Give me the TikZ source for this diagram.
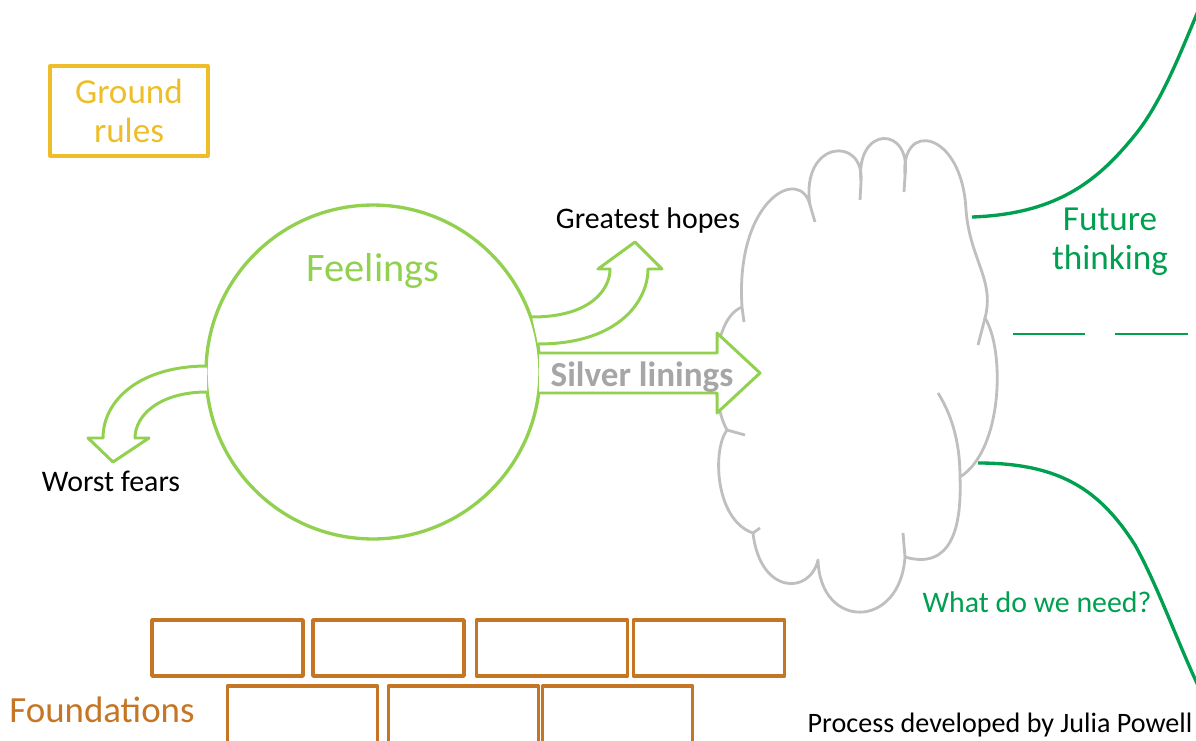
\documentclass[tikz,border=0pt]{standalone}
\usepackage{fontspec}
\setmainfont{Carlito}
\usetikzlibrary{positioning, calc}
\definecolor{goldline}{RGB}{238,190,40}
\definecolor{feelgreen}{RGB}{146,208,80}
\definecolor{futuregreen}{RGB}{0,160,80}
\definecolor{cloudgrey}{RGB}{191,191,191}
\definecolor{silvergrey}{RGB}{166,166,166}
\definecolor{brickbrown}{RGB}{196,118,36}

\begin{document}
\begin{tikzpicture}
    [
        x=0.02cm, y=-0.02cm, line join=round,
        gold_box/.style={rectangle, draw=goldline, line width=1.9pt, minimum width=3.16cm, minimum height=1.8cm, align=center, text=goldline, font=\fontsize{20}{22}\selectfont},
        feel_circle/.style={circle, draw=feelgreen, line width=1.9pt, minimum size=6.68cm, inner sep=0pt},
        green_arrow/.style={draw=feelgreen, line width=1.7pt, fill=white},
        cloud_line/.style={draw=cloudgrey, line width=1.6pt},
        future_line/.style={draw=futuregreen, line width=1.9pt},
        dash_line/.style={draw=futuregreen, line width=0.8pt},
        brick_top/.style={rectangle, draw=brickbrown, line width=2pt, minimum width=3.02cm, minimum height=1.12cm},
        brick_low/.style={rectangle, draw=brickbrown, line width=2pt, minimum width=3cm, minimum height=1.16cm},
        black_text/.style={text=black, inner sep=0pt, font=\fontsize{17}{20}\selectfont},
        green_text/.style={text=futuregreen, inner sep=0pt, align=center},
    ]
  \useasboundingbox (0,0) rectangle (1196,740);

  \node[gold_box] (rules) at (129,111) {Ground\\rules};

  \node[feel_circle] (feel) at (373,372) {};
  \node[text=feelgreen, inner sep=0pt, font=\fontsize{23}{26}\selectfont] (feeltext) at (373,271) {Feelings};

  % cloud
  \draw[cloud_line] (742,307)
      .. controls (735,200) and (800,165) .. (810,205)
      .. controls (800,140) and (865,135) .. (861,182)
      .. controls (855,125) and (912,125) .. (905,176)
      .. controls (900,120) and (962,130) .. (966,210)
      .. controls (970,260) and (995,280) .. (985,318)
      .. controls (1005,350) and (1003,450) .. (960,477)
      .. controls (962,530) and (950,570) .. (905,557)
      .. controls (900,630) and (820,630) .. (818,560)
      .. controls (810,595) and (760,595) .. (753,533)
      .. controls (715,520) and (712,450) .. (727,430)
      .. controls (710,400) and (710,320) .. (742,307) -- cycle;
  \draw[cloud_line] (742,307) -- (744,322);
  \draw[cloud_line] (810,205) -- (815,222);
  \draw[cloud_line] (861,182) -- (860,200);
  \draw[cloud_line] (905,176) -- (904,192);
  \draw[cloud_line] (985,318) -- (978,345);
  \draw[cloud_line] (938,393) .. controls (955,420) and (960,450) .. (960,477);
  \draw[cloud_line] (905,557) -- (903,533);
  \draw[cloud_line] (753,533) -- (760,528);
  \draw[cloud_line] (727,430) -- (745,435);

  % arrows out of the circle
  \draw[green_arrow] (532,317) .. controls (590,317) and (610,290) .. (610,269) -- (598,269) -- (635,242)
      -- (662,269) -- (648,269) .. controls (648,300) and (620,344) .. (538,344);
  \draw[green_arrow] (539,353) -- (717,353) -- (717,333) -- (760,373) -- (717,413) -- (717,393) -- (539,393);
  \draw[green_arrow] (207,366) .. controls (140,366) and (103,400) .. (103,438) -- (88,438) -- (113,462)
      -- (149,438) -- (135,438) .. controls (135,415) and (160,392) .. (207,392);

  \node[black_text] (hopes) at (648,221) {Greatest hopes};
  \node[black_text] (fears) at (111,481) {Worst fears};
  \node[text=silvergrey, inner sep=0pt, font=\fontsize{20}{22}\selectfont\bfseries] (linings) at (642,377) {Silver linings};

  % future lines
  \coordinate (top_start) at (972,217);
  \coordinate (top_end) at (1205,-5);
  \coordinate (low_start) at (978,463);
  \coordinate (low_end) at (1205,700);
  \draw[future_line] (top_start) .. controls (1060,214) and (1100,178) .. (1135,135)
      .. controls (1165,98) and (1185,40) .. (top_end);
  \draw[future_line] (low_start) .. controls (1060,463) and (1100,490) .. (1135,545)
      .. controls (1160,590) and (1180,650) .. (low_end);
  \coordinate (dash_a) at (1013,334);
  \coordinate (dash_b) at (1085,334);
  \coordinate (dash_c) at (1115,334);
  \coordinate (dash_d) at (1188,334);
  \draw[dash_line] (dash_a) -- (dash_b);
  \draw[dash_line] (dash_c) -- (dash_d);

  \node[green_text, font=\fontsize{20}{22}\selectfont] (future) at (1110,242) {Future\\thinking};
  \node[green_text, font=\fontsize{17}{20}\selectfont] (need) at (1037,602) {What do we need?};

  % foundations
  \node[brick_top] (b1) at (227.5,648) {};
  \node[brick_top] (b2) at (388.5,648) {};
  \node[brick_top] (b3) at (552,648) {};
  \node[brick_top] (b4) at (709,648) {};
  \node[brick_low] (b5) at (302.5,715) {};
  \node[brick_low] (b6) at (463.5,715) {};
  \node[brick_low] (b7) at (617.5,715) {};
  \node[text=brickbrown, inner sep=0pt, font=\fontsize{21}{24}\selectfont] (found) at (102,710) {Foundations};

  \node[black_text, font=\fontsize{16}{18}\selectfont] (credit) at (1000,725) {Process developed by Julia Powell};
\end{tikzpicture}
\end{document}
